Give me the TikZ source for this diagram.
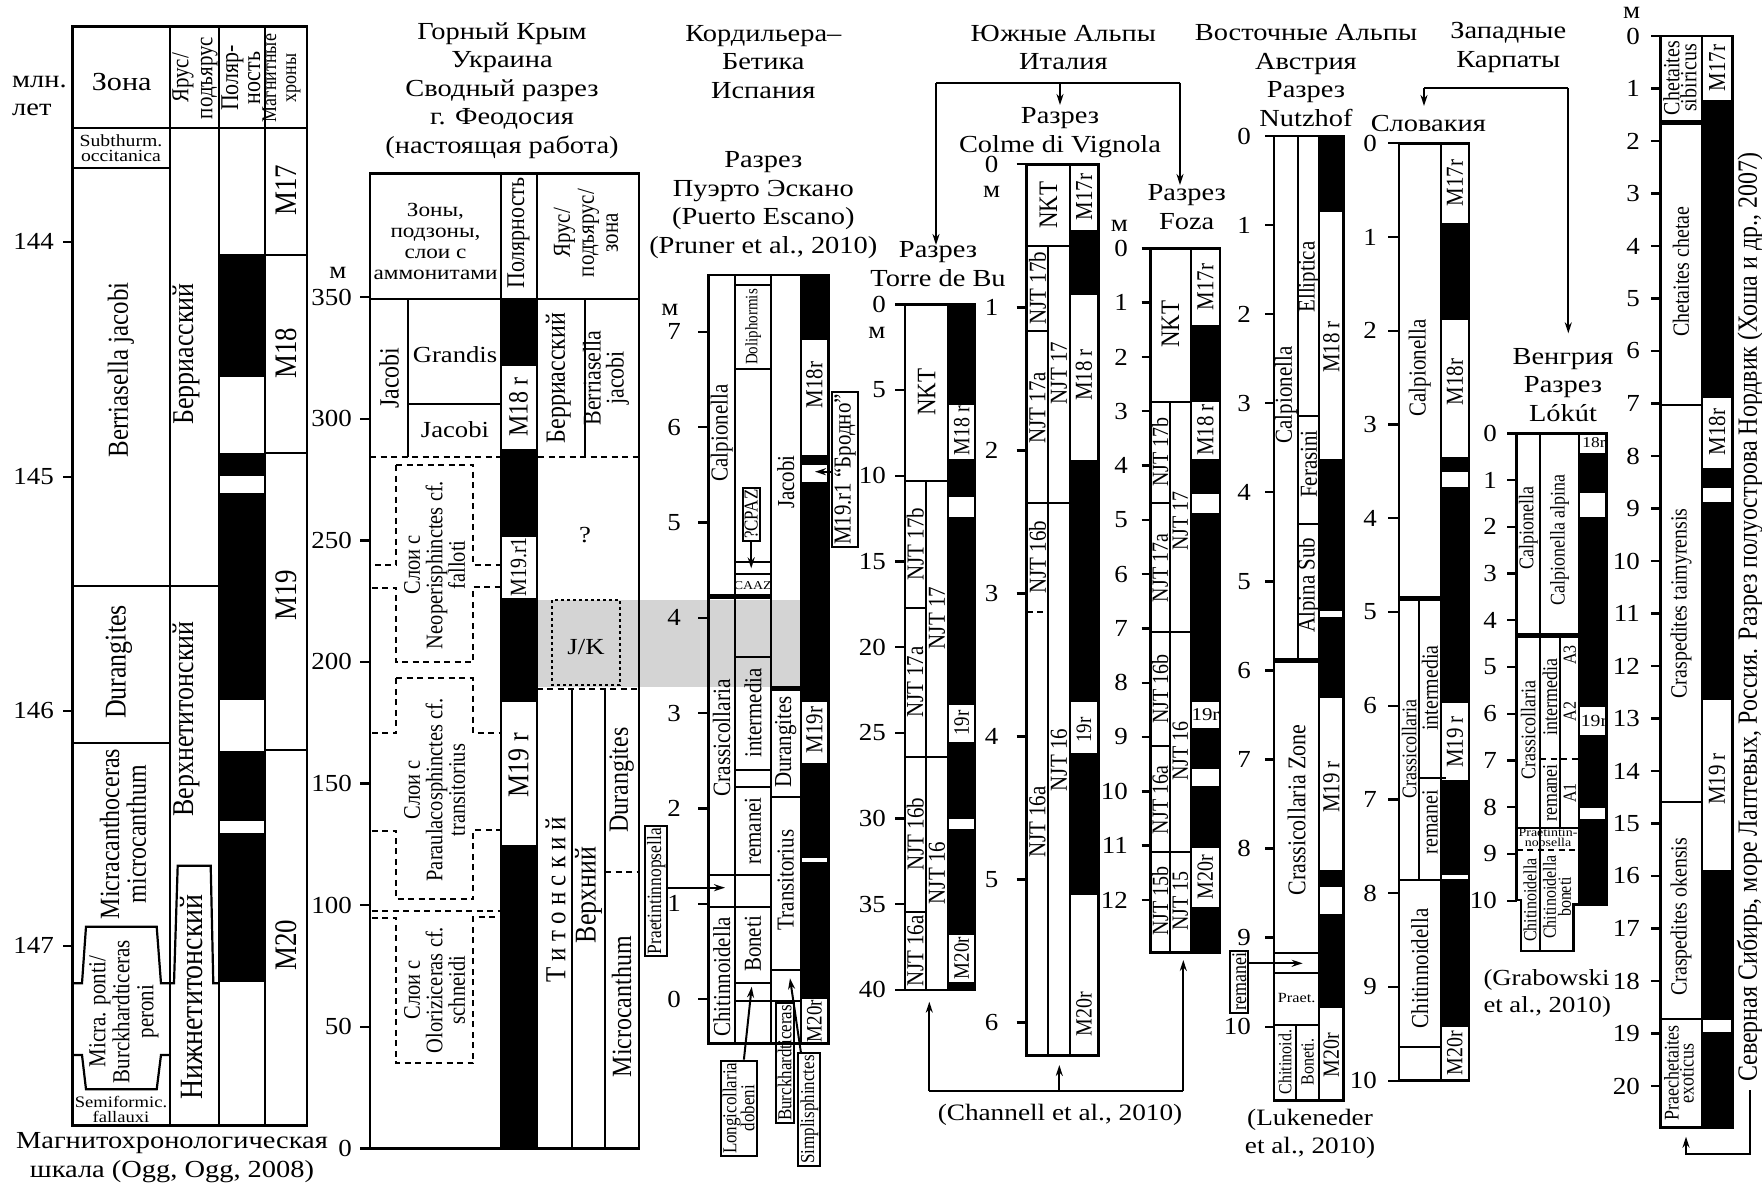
\documentclass[tikz,border=0pt]{standalone}
\usepackage{fontspec}
\setmainfont{Liberation Serif}
\newfontfamily\wf{Liberation Serif}[FakeStretch=1.16]
\newfontfamily\nf{Liberation Serif}[FakeStretch=1.1]
\newfontfamily\cf{Liberation Serif}[FakeStretch=0.86]
\usetikzlibrary{arrows.meta}
\newcommand\scl[7]{\foreach \m in {#1} {\pgfmathsetmacro\yy{#2+(#3)*\m}\draw[tk] (#4,\yy) -- (#5,\yy); \node[num, anchor=east] (#7\m) at (#6,\yy) {\m};}}
\begin{document}
\begin{tikzpicture}[x=1pt,y=-1pt,
  every node/.style={inner sep=0pt, align=center},
  fs/.style 2 args={font=\wf\fontsize{#1}{#2}\selectfont},
  rfs/.style 2 args={rotate=90, font=\cf\fontsize{\fpeval{#1*1.16}}{#2}\selectfont},
  rl/.style={rotate=90, font=\cf\fontsize{\fpeval{#1*1.16}}{\fpeval{#1*1.16}}\selectfont},
  ol/.style={line width=2.8pt},
  il/.style={line width=2.2pt},
  thk/.style={line width=5pt},
  dl/.style={line width=2pt, dash pattern=on 6pt off 4.5pt},
  dt/.style={line width=2pt, dash pattern=on 3pt off 3pt},
  tk/.style={line width=2.4pt},
  ar/.style={line width=2pt, -{Stealth[length=11pt,width=7pt]}},
  lbox/.style={draw, line width=2pt, inner sep=2pt},
  num/.style={font=\nf\fontsize{24.5}{28}\selectfont},
  ttl/.style={fs={24.5}{28.6}},
]
\useasboundingbox (0,0) rectangle (1762,1196);
\fill[black!17] (536.7,600) rectangle (800,686.7);

%% ===== Column 1: scale =====
\foreach \a/\b in {254/376.7,452.7/476,493.3/700,751/821,833.3/982.3} \fill (219,\a) rectangle (265,\b);
\draw[ol] (72.7,26.7) rectangle (307,1125.7);
\draw[il] (72.7,127.7) -- (307,127.7);
\draw[il] (170,26.7) -- (170,1125.7) (219,26.7) -- (219,1125.7) (265,26.7) -- (265,1125.7);
\draw[il] (72.7,168.3) -- (170,168.3) (72.7,585.7) -- (219,585.7) (72.7,743.3) -- (170,743.3);
\draw[il] (265,255.3) -- (307,255.3) (265,452.7) -- (307,452.7) (265,749.7) -- (307,749.7);
\draw[il] (72.7,983.3) -- (82,983.3) -- (86,926.7) -- (156.7,926.7) -- (161,983.3) -- (170,983.3);
\draw[il] (72.7,1055) -- (82,1055) -- (86,1089.3) -- (156.7,1089.3) -- (161,1055) -- (170,1055);
\draw[il] (170,983.3) -- (174,983.3) -- (177.7,865.7) -- (210.7,865.7) -- (213.3,983.3) -- (219,983.3);
\foreach \v/\y in {144/241.7,145/476.7,146/710.7,147/945.7} {\draw[tk] (63,\y) -- (72.7,\y); \node[num, anchor=east] (sa\v) at (54,\y) {\v};}
\node[anchor=west, align=left, fs={24.5}{28}] (c1u) at (12,96) {млн.\\лет};
\node[fs={26}{30}] (c1z) at (121.7,82) {Зона};
\node[rfs={21}{24}] (c1s) at (195,78) {Ярус/\\подъярус};
\node[rfs={22}{22}] (c1p) at (241,78) {Поляр-\\ность};
\node[rfs={18}{20}] (c1m) at (281.5,78) {Магнитные\\хроны};
\node[fs={17}{14.5}] (c1a) at (121,148) {Subthurm.\\occitanica};
\node[rl=25] (c1b) at (121,370) {Berriasella jacobi};
\node[rl=26] (c1d) at (119,662) {Durangites};
\node[rfs={24}{26.7}] (c1mc) at (123,834) {Micracanthoceras\\microcanthum};
\node[rfs={21}{24}] (c1mp) at (124,1011.7) {Micra. ponti/\\Burckhardticeras\\peroni};
\node[fs={16}{15}] (c1sf) at (121,1109) {Semiformic.\\fallauxi};
\node[rl=26] (c1be) at (186,354) {Берриасский};
\node[rl=26] (c1vt) at (186,719) {Верхнетитонский};
\node[rl=28] (c1nt) at (192,997) {Нижнетитонский};
\node[rl=27] (c1m17) at (286.5,190) {M17};
\node[rl=27] (c1m18) at (286.5,353) {M18};
\node[rl=27] (c1m19) at (286.5,595) {M19};
\node[rl=27] (c1m20) at (286.5,945) {M20};
\node[fs={24.5}{28.7}] (c1f) at (172,1157.3) {Магнитохронологическая\\шкала (Ogg, Ogg, 2008)};

%% ===== Column 2: Crimea =====
\node[ttl] (t2) at (502,90.5) {Горный Крым\\Украина\\Сводный разрез\\г. Феодосия\\(настоящая работа)};
\foreach \a/\b in {299/365.7,449.3/537.3,597.7/702.3,845/1148.3} \fill (501,\a) rectangle (536.7,\b);
\draw[ol] (370,173.3) rectangle (639,1148.3);
\draw[il] (370,299) -- (639,299);
\draw[il] (501,173.3) -- (501,1148.3) (536.7,173.3) -- (536.7,1148.3);
\draw[il] (585,299) -- (585,456.7) (408.3,299) -- (408.3,456.7) (408.3,404) -- (501,404);
\draw[il] (572.3,689.3) -- (572.3,1148.3) (605,689.3) -- (605,1148.3);
\draw[dl] (370,456.7) -- (639,456.7);
\draw[dl] (536.7,689.3) -- (639,689.3) (605,871.7) -- (639,871.7);
\draw[dl] (396,465) -- (473.3,465) -- (473.3,565) -- (500,565) (396,465) -- (396,565) -- (371.7,565);
\draw[dl] (371.7,587.7) -- (396,587.7) -- (396,662.3) -- (473.3,662.3) -- (473.3,586.7) -- (500,586.7);
\draw[dl] (396,678.3) -- (473.3,678.3) -- (473.3,733.3) -- (500,733.3) (396,678.3) -- (396,733.3) -- (371.7,733.3);
\draw[dl] (371.7,830.7) -- (396,830.7) -- (396,899.3) -- (473.3,899.3) -- (473.3,830) -- (500,830);
\draw[dl] (371.7,910.7) -- (500,910.7);
\draw[dl] (371.7,917.7) -- (396,917.7) -- (396,1063.3) -- (473.3,1063.3) -- (473.3,916.7) -- (500,916.7);
\draw[dt] (552.3,600) rectangle (620,685);
\scl{0,50,...,350}{1148.3}{-2.432}{360}{370}{352}{sb}
\node[num] (c2m) at (338,273) {м};
\node[fs={20}{21}] (c2h) at (435.5,241.5) {Зоны,\\подзоны,\\слои с\\аммонитами};
\node[rl=22] (c2p) at (518.5,233) {Полярность};
\node[rfs={21}{24}] (c2s) at (586,233) {Ярус/\\подъярус/\\зона};
\node[rl=24] (c2j) at (389,378) {Jacobi};
\node[fs={23}{24}] (c2g) at (455,355) {Grandis};
\node[fs={23}{24}] (c2j2) at (455,430) {Jacobi};
\node[rfs={20.5}{22.5}] (c2n) at (434.5,565) {Слои с\\Neoperisphinctes cf.\\falloti};
\node[rfs={20.5}{22.5}] (c2pa) at (434.5,790) {Слои с\\Paraulacosphinctes cf.\\transitorius};
\node[rfs={20.5}{22.5}] (c2o) at (434.5,990) {Слои с\\Oloriziceras cf.\\schneidi};
\node[rl=24] (c2m18) at (518.5,407) {M18 r};
\node[rl=20] (c2m191) at (518.5,567) {M19.r1};
\node[rl=26] (c2m19) at (518.5,765) {M19 r};
\node[rl=24] (c2be) at (558.3,378) {Берриасский};
\node[rfs={22}{23}] (c2bj) at (606,378) {Berriasella\\jacobi};
\node[fs={23}{24}] (c2q) at (585,535) {?};
\node[fs={23}{24}] (c2jk) at (586,646.7) {J/K};
\node[rl=25] (c2ti) at (555.5,900) {Т и т о н с к и й};
\node[rl=26] (c2ve) at (588.5,895) {Верхний};
\node[rl=24] (c2du) at (621.7,780) {Durangites};
\node[rl=24] (c2mi) at (621.7,1006.7) {Microcanthum};

%% ===== Column 3: Cordillera =====
\node[ttl] (t3a) at (763.3,61.7) {Кордильера–\\Бетика\\Испания};
\node[ttl] (t3b) at (763.3,205) {Разрез\\Пуэрто Эскано\\(Puerto Escano)\\(Pruner et al., 2010)};
\foreach \a/\b in {275/340,455/465,481.7/701.7,763.3/858.3,862/999} \fill (800.7,\a) rectangle (828.3,\b);
\draw[ol] (708.3,275) rectangle (828.3,1043.3);
\draw[il] (735,275) -- (735,1043.3) (770.7,275) -- (770.7,1043.3) (800.7,275) -- (800.7,1043.3);
\draw[thk] (708.3,596.7) -- (770.7,596.7) (770.7,688.3) -- (800.7,688.3);
\foreach \y in {285,369,561.7,574,656.7,770,786.7,982.7} \draw[il] (735,\y) -- (770.7,\y);
\draw[il] (708.3,875) -- (770.7,875) (708.3,906.7) -- (770.7,906.7) (735,1000.7) -- (800.7,1000.7);
\draw[il] (770.7,796.7) -- (800.7,796.7) (770.7,970) -- (800.7,970);
\scl{0,...,7}{999}{-95.3}{698.3}{708.3}{681}{sc}
\node[num] (c3m) at (670,310) {м};
\node[rl=21] (c3ca) at (721.7,433) {Calpionella};
\node[rl=21.5] (c3cr) at (721.7,738) {Crassicollaria};
\node[rl=21] (c3ch) at (721.7,976.7) {Chitinnoidella};
\node[rl=15] (c3do) at (753.3,327) {Doliphormis};
\node[fs={12}{13}] (c3caaz) at (752.8,585.5) {CAAZ};
\node[rl=21] (c3in) at (753,713) {intermedia};
\node[rl=21] (c3re) at (753,831) {remanei};
\node[rl=21] (c3bo) at (753,944) {Boneti};
\node[rl=21] (c3ja) at (785.7,482) {Jacobi};
\node[rl=21] (c3du) at (785.7,742) {Durangites};
\node[rl=21] (c3tr) at (785.7,880) {Transitorius};
\node[rl=21] (c3m18) at (814.5,385) {M18r};
\node[rl=21] (c3m19) at (814.5,730) {M19r};
\node[rl=19] (c3m20) at (814.5,1021) {M20r};
\node[lbox, rl=17] (cpaz) at (751.2,514.3) {?CPAZ};
\coordinate (cpazT) at (751.2,568.3);
\draw[ar] (cpaz.west) -- (cpazT);
\node[lbox, rl=17.5] (prae) at (656.2,891.2) {Praetintinnopsella};
\coordinate (praeT) at (725,887.7);
\draw[ar] (prae.south |- praeT) -- (praeT);
\node[lbox, rl=21] (brod) at (845,469.5) {M19.r1 “Бродно”};
\coordinate (brodT) at (815,471.7);
\draw[ar] (brod.north |- brodT) -- (brodT);
\node[lbox, rfs={17}{18}] (lon) at (738.7,1108.3) {Longicollaria\\dobeni};
\coordinate (lonT) at (751.7,986.7);
\draw[ar] (lon) -- (lonT);
\node[lbox, rl=17] (burk) at (784.6,1063) {Burckhardticeras};
\node[lbox, rl=17] (simp) at (809.3,1109.5) {Simplisphinctes};
\coordinate (simpT) at (790,978.3);
\draw[ar] (simp) -- (simpT);

%% ===== Southern Alps =====
\node[ttl] (t4) at (1063.3,47.5) {Южные Альпы\\Италия};
\coordinate (brA) at (936,82.7); \coordinate (brB) at (1060,82.7); \coordinate (brC) at (1180,82.7);
\coordinate (tbT) at (936,245); \coordinate (cvT) at (1060,105); \coordinate (fzT) at (1180,185);
\draw[line width=2pt] (brA) -- (brC);
\draw[ar] (brA) -- (tbT); \draw[ar] (brB) -- (cvT); \draw[ar] (brC) -- (fzT);
% Torre de Bu
\node[ttl] (t4a) at (938,264) {Разрез\\Torre de Bu};
\foreach \a/\b in {304.3/405,459.3/496.7,516.7/705,741.7/819.3,829.3/935,981.7/990} \fill (948.3,\a) rectangle (975,\b);
\draw[ol] (905,304.3) rectangle (975,990);
\draw[il] (948.3,304.3) -- (948.3,990) (925.7,480.7) -- (925.7,990);
\draw[il] (905,480.7) -- (948.3,480.7) (905,607.7) -- (925.7,607.7) (905,756.7) -- (948.3,756.7) (905,911.7) -- (925.7,911.7);
\scl{0,5,...,40}{304.3}{17.14}{895}{905}{886}{sd}
\node[num] (c4m) at (877,333) {м};
\node[rl=23] (c4nkt) at (926.7,392) {NKT};
\node[rl=21] (c4a) at (915.3,544) {NJT 17b};
\node[rl=21] (c4b) at (915.3,682) {NJT 17a};
\node[rl=21] (c4c) at (937,618) {NJT 17};
\node[rl=21] (c4d) at (915.3,834) {NJT 16b};
\node[rl=21] (c4e) at (937,873) {NJT 16};
\node[rl=21] (c4f) at (915.3,951) {NJT 16a};
\node[rl=20] (c4g) at (961.7,431) {M18 r};
\node[rl=19] (c4h) at (961.7,723) {19r};
\node[rl=19] (c4i) at (961.7,958) {M20r};
% Colme di Vignola
\node[ttl] (t4b) at (1060,132.5) {Разрез\\Colme di Vignola};
\foreach \a/\b in {230/295,460/701.7,753.3/895} \fill (1070,\a) rectangle (1098.3,\b);
\draw[ol] (1026.7,164.3) rectangle (1098.3,1055.7);
\draw[il] (1070,164.3) -- (1070,1055.7) (1048.3,246) -- (1048.3,1055.7);
\draw[il] (1026.7,246) -- (1070,246) (1026.7,330.7) -- (1048.3,330.7) (1026.7,502.7) -- (1070,502.7);
\draw[dl] (1026.7,611.7) -- (1046.7,611.7);
\foreach \m in {0,...,6} {\pgfmathsetmacro\yy{164.3+143*\m}\draw[tk] (1016.7,\yy) -- (1026.7,\yy); \node[num] (se\m) at (991.7,\yy) {\m};}
\node[num] (c5m) at (991.7,191.7) {м};
\node[rl=23] (c5nkt) at (1048.3,205) {NKT};
\node[rl=21] (c5a) at (1037.5,288) {NJT 17b};
\node[rl=21] (c5b) at (1037.5,408) {NJT 17a};
\node[rl=21] (c5c) at (1059,373) {NJT 17};
\node[rl=21] (c5d) at (1037.5,557) {NJT 16b};
\node[rl=21] (c5e) at (1037.5,822) {NJT 16a};
\node[rl=21] (c5f) at (1059,760) {NJT 16};
\node[rl=21] (c5g) at (1084,197) {M17r};
\node[rl=21] (c5h) at (1084,375) {M18 r};
\node[rl=19] (c5i) at (1084,730) {19r};
\node[rl=20] (c5j) at (1084,1014) {M20r};
% Foza
\node[ttl] (t4c) at (1186.7,207.2) {Разрез\\Foza};
\foreach \a/\b in {325/401.7,459.3/494.3,513.3/701.7,728.3/769.3,786/848.3,906.7/952.3} \fill (1190.7,\a) rectangle (1220,\b);
\draw[ol] (1150.7,248.3) rectangle (1220,952.3);
\draw[il] (1190.7,248.3) -- (1190.7,952.3) (1170,401.7) -- (1170,952.3);
\draw[il] (1150.7,401.7) -- (1190.7,401.7) (1150.7,503.3) -- (1170,503.3) (1150.7,632.3) -- (1190.7,632.3) (1150.7,746) -- (1170,746) (1150.7,852.3) -- (1190.7,852.3);
\scl{0,...,12}{248.3}{54.3}{1141.7}{1150.7}{1128}{sf}
\node[num] (c6m) at (1119.3,226) {м};
\node[rl=23] (c6nkt) at (1170.3,324) {NKT};
\node[rl=20] (c6a) at (1160.3,452) {NJT 17b};
\node[rl=20] (c6b) at (1160.3,568) {NJT 17a};
\node[rl=20] (c6c) at (1180.3,521) {NJT 17};
\node[rl=20] (c6d) at (1160.3,689) {NJT 16b};
\node[rl=20] (c6e) at (1180.3,751) {NJT 16};
\node[rl=20] (c6f) at (1160.3,800) {NJT 16a};
\node[rl=20] (c6g) at (1160.3,901) {NJT 15b};
\node[rl=20] (c6h) at (1180.3,901) {NJT 15};
\node[rl=21] (c6i) at (1205.3,287) {M17r};
\node[rl=21] (c6j) at (1205.3,430) {M18 r};
\node[fs={18}{19}] (c6k) at (1205.5,715) {19r};
\node[rl=20] (c6l) at (1205.3,877) {M20r};
% bottom bracket
\coordinate (bbA) at (929.3,1091); \coordinate (bbB) at (1059.3,1091); \coordinate (bbC) at (1183.3,1091);
\coordinate (bbAT) at (929.3,1001.7); \coordinate (bbBT) at (1059.3,1065); \coordinate (bbCT) at (1183.3,960);
\draw[line width=2pt] (bbA) -- (bbC);
\draw[ar] (bbA) -- (bbAT); \draw[ar] (bbB) -- (bbBT); \draw[ar] (bbC) -- (bbCT);
\node[fs={23.5}{28}] (chan) at (1060,1115) {(Channell et al., 2010)};

%% ===== Eastern Alps, Nutzhof =====
\node[ttl] (t5) at (1306,75.6) {Восточные Альпы\\Австрия\\Разрез\\Nutzhof};
\foreach \a/\b in {136/211.7,459.3/611,616.7/698.3,870/886.7,914/1008.3} \fill (1319.3,\a) rectangle (1343.3,\b);
\draw[ol] (1274,136) rectangle (1343.3,1100.7);
\draw[il] (1298.3,136) -- (1298.3,660) (1319.3,136) -- (1319.3,1100.7) (1296,1025) -- (1296,1100.7);
\draw[il] (1298.3,416) -- (1319.3,416) (1298.3,524) -- (1319.3,524);
\draw[thk] (1274,660) -- (1319.3,660);
\draw[il] (1274,952.7) -- (1319.3,952.7) (1274,973.3) -- (1319.3,973.3) (1274,1025) -- (1319.3,1025);
\scl{0,...,10}{136}{89.07}{1265}{1274}{1251}{sg}
\node[rl=21] (c7a) at (1286,395) {Calpionella};
\node[rl=21] (c7b) at (1308.8,277) {Elliptica};
\node[rl=21] (c7c) at (1308.8,464) {Ferasini};
\node[rl=21] (c7d) at (1308.8,585) {Alpina Sub};
\node[rl=22] (c7e) at (1296.6,810) {Crassicollaria Zone};
\node[fs={14}{15}] (c7f) at (1296.6,998.3) {Praet.};
\node[rl=16] (c7g) at (1285,1062) {Chitinoid.};
\node[rl=16] (c7h) at (1307.5,1062) {Boneti.};
\node[rl=21] (c7i) at (1331.3,347) {M18 r};
\node[rl=21] (c7j) at (1331.3,787) {M19 r};
\node[rl=20] (c7k) at (1331.3,1055) {M20r};
\node[lbox, rl=18] (rem) at (1239.2,981.8) {remanei};
\coordinate (remT) at (1302.7,963.3);
\draw[ar] (rem.south |- remT) -- (remT);
\node[fs={23.5}{28.3}] (luk) at (1310,1134) {(Lukeneder\\et al., 2010)};

%% ===== Western Carpathians, Slovakia =====
\node[ttl] (t6) at (1508.3,47.3) {Западные\\Карпаты};
\node[ttl] (t6a) at (1428.3,123.3) {Словакия};
\coordinate (wcA) at (1424,88.3); \coordinate (wcB) at (1568.3,88.3);
\coordinate (wcAT) at (1424,106); \coordinate (wcBT) at (1568.3,333.3);
\draw[line width=2pt] (wcA) -- (wcB);
\draw[ar] (wcA) -- (wcAT); \draw[ar] (wcB) -- (wcBT);
\foreach \a/\b in {223.3/320,456.7/471.7,486.7/703.3,780/875,879.3/1026.7} \fill (1440.7,\a) rectangle (1469,\b);
\draw[ol] (1399,143.3) rectangle (1469,1080.7);
\draw[il] (1440.7,143.3) -- (1440.7,1080.7) (1419.3,598.3) -- (1419.3,880);
\draw[thk] (1399,598.3) -- (1440.7,598.3);
\draw[il] (1419.3,778.3) -- (1446,778.3) (1399,880) -- (1440.7,880) (1399,1046.7) -- (1440.7,1046.7);
\scl{0,...,10}{143.3}{93.74}{1388.3}{1399}{1377}{sh}
\node[rl=21] (c8a) at (1419.8,368) {Calpionella};
\node[rl=18] (c8b) at (1409.2,749) {Crassicollaria};
\node[rl=20] (c8c) at (1430,688) {intermedia};
\node[rl=20] (c8d) at (1430,822) {remanei};
\node[rl=21] (c8e) at (1419.8,968.3) {Chitinnoidella};
\node[rl=21] (c8f) at (1454.8,183) {M17r};
\node[rl=21] (c8g) at (1454.8,382) {M18r};
\node[rl=21] (c8h) at (1454.8,742) {M19 r};
\node[rl=20] (c8i) at (1454.8,1053) {M20r};

%% ===== Hungary, Lokut =====
\node[ttl] (t7) at (1563,384.7) {Венгрия\\Разрез\\Lókút};
\foreach \a/\b in {453.3/492.7,516.7/706.7,735/808.3,819.3/904.3} \fill (1579.3,\a) rectangle (1606.7,\b);
\draw[ol] (1516.7,433.3) -- (1606.7,433.3) -- (1606.7,904.3) -- (1573.3,904.3) -- (1573.3,951) -- (1521,951) -- (1521,900) -- (1516.7,900) -- cycle;
\draw[il] (1579.3,433.3) -- (1579.3,904.3) (1540,433.3) -- (1540,951) (1560,636) -- (1560,827.7);
\draw[thk] (1516.7,635) -- (1579.3,635);
\draw[il] (1516.7,827.7) -- (1579.3,827.7);
\draw[dl] (1516.7,850) -- (1579.3,850) (1540,759.3) -- (1579.3,759.3);
\scl{0,...,10}{433.3}{46.74}{1507.3}{1516.7}{1497}{si}
\node[rl=18] (c9a) at (1528.3,528.3) {Calpionella};
\node[rl=18] (c9b) at (1559.7,540) {Calpionella alpina};
\node[rl=18] (c9c) at (1528.3,730) {Crassicollaria};
\node[rl=18] (c9d) at (1550,696.7) {intermedia};
\node[rl=18] (c9e) at (1550,793) {remanei};
\node[rl=16] (c9f) at (1569.7,655) {A3};
\node[rl=16] (c9g) at (1569.7,711.7) {A2};
\node[rl=16] (c9h) at (1569.7,793) {A1};
\node[fs={12}{10}] (c9i) at (1548,838.5) {Praetintin-\\nopsella};
\node[rl=16] (c9j) at (1530,900) {Chitinoidella};
\node[rfs={16}{15}] (c9k) at (1557,897) {Chitinoidella\\boneti};
\node[fs={15}{17}] (c9l) at (1594,443) {18r};
\node[fs={17}{19}] (c9m) at (1594,721) {19r};
\node[anchor=west, align=left, fs={23}{26.7}] (grab) at (1483.3,993.3) {(Grabowski\\et al., 2010)};

%% ===== Nordvik =====
\foreach \a/\b in {100/398.3,468.3/488.3,501.7/700,870/1020,1031.7/1127.5} \fill (1701.7,\a) rectangle (1732.3,\b);
\draw[ol] (1660.7,36) rectangle (1732.3,1127.5);
\draw[il] (1701.7,36) -- (1701.7,1127.5);
\draw[thk] (1660.7,122.7) -- (1701.7,122.7);
\draw[il] (1660.7,405) -- (1701.7,405) (1660.7,801.7) -- (1701.7,801.7) (1660.7,1019.3) -- (1701.7,1019.3);
\scl{0,...,20}{36}{52.5}{1651}{1660.7}{1640}{sj}
\node[num] (c10m) at (1631.7,13.3) {м};
\node[rfs={20}{17}] (c10a) at (1680,78) {Chetaites\\sibiricus};
\node[rl=20] (c10b) at (1681,271.7) {Chetaites chetae};
\node[rl=20] (c10c) at (1681,603.3) {Craspedites taimyrensis};
\node[rl=20] (c10d) at (1681,916.7) {Craspedites okensis};
\node[rfs={18}{15}] (c10e) at (1679,1073.3) {Praechetaites\\exoticus};
\node[rl=21] (c10f) at (1717,68) {M17r};
\node[rl=21] (c10g) at (1717,432) {M18r};
\node[rl=21] (c10h) at (1717,779) {M19 r};
\node[rl=24, anchor=west] (nv) at (1750,1082) {Северная Сибирь, море Лаптевых, Россия. Разрез полуострова Нордвик (Хоша и др., 2007)};
\coordinate (nvA) at (1750,1154); \coordinate (nvT) at (1686,1136.7);
\draw[ar, shorten <=8pt] (nv.west) -- (nvA) -| (nvT);
\end{tikzpicture}
\end{document}
